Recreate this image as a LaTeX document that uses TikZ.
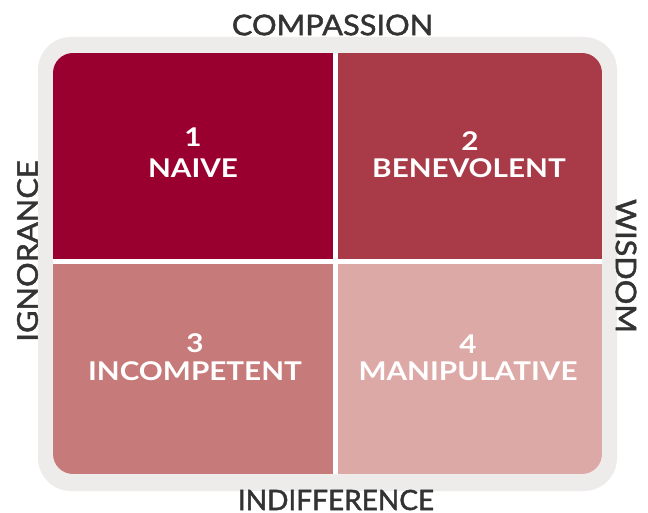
\documentclass[tikz,border=0pt]{standalone}
\usepackage{fontspec}
\setmainfont{Lato}
\newfontfamily\axisfont{Lato}[FakeStretch=1.08,FakeBold=1.6]
\newfontfamily\axisfontnarrow{Lato}[FakeStretch=1.0,FakeBold=1.6]
\newfontfamily\quadfont{Lato}[FakeStretch=1.15]
\definecolor{qone}{HTML}{990030}
\definecolor{qtwo}{HTML}{A83B47}
\definecolor{qthree}{HTML}{C67A7A}
\definecolor{qfour}{HTML}{DDA9A6}
\definecolor{framegrey}{HTML}{EEECEA}
\definecolor{axistext}{HTML}{333333}
\begin{document}
\begin{tikzpicture}[x=1pt,y=-1pt,
  axislabel/.style={inner sep=0pt, text=axistext, font=\axisfont\fontsize{28.5}{30}\selectfont},
  quadlabel/.style={inner sep=0pt, text=white, font=\quadfont\bfseries\fontsize{25.8}{28}\selectfont}]
\useasboundingbox (0,0) rectangle (648,513);
\fill[white] (0,0) rectangle (648,513);
% frame
\fill[framegrey, rounded corners=33pt] (38,37) rectangle (617,491);
\fill[white, rounded corners=20pt] (53,53) rectangle (602,474);
\begin{scope}
  \clip[rounded corners=20pt] (53,53) rectangle (602,474);
  \fill[qone]   (53,53)   rectangle (333,259);
  \fill[qtwo]   (338,53)  rectangle (602,259);
  \fill[qthree] (53,264)  rectangle (333,474);
  \fill[qfour]  (338,264) rectangle (602,474);
\end{scope}
% quadrant texts
\node[quadlabel] (n1) at (193,137.5) {1};
\node[quadlabel] (l1) at (193,168) {NAIVE};
\node[quadlabel] (n2) at (470,141) {2};
\node[quadlabel] (l2) at (469,168.5) {BENEVOLENT};
\node[quadlabel] (n3) at (195,343) {3};
\node[quadlabel] (l3) at (195,371.5) {INCOMPETENT};
\node[quadlabel] (n4) at (468,344) {4};
\node[quadlabel] (l4) at (468,371.5) {MANIPULATIVE};
% axis texts
\node[axislabel] (top) at (332.5,25) {COMPASSION};
\node[axislabel, font=\axisfontnarrow\fontsize{28}{30}\selectfont] (bottom) at (336,500) {INDIFFERENCE};
\node[axislabel, rotate=90] (left) at (27.5,251) {IGNORANCE};
\node[axislabel, rotate=-90] (right) at (626,266) {WISDOM};
\end{tikzpicture}
\end{document}
